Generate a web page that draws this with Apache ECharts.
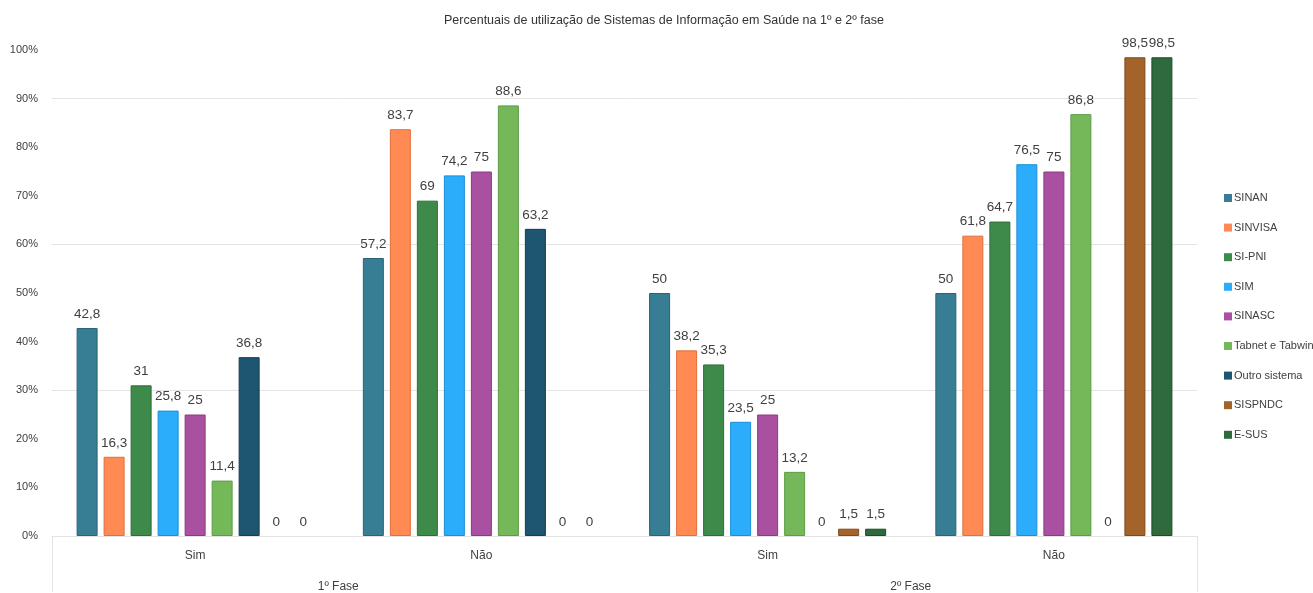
<!DOCTYPE html>
<html>
<head>
<meta charset="utf-8">
<title>Percentuais de utilização de Sistemas de Informação em Saúde</title>
<script src="https://cdn.jsdelivr.net/npm/echarts@6/dist/echarts.min.js"></script>
<style>
  html, body { margin: 0; padding: 0; background: #fff; }
  #chart { width: 1313px; height: 593px; }
</style>
</head>
<body>
<div id="chart"></div>
<script>
// Answer categories and the phase each pair belongs to
const categories = ['Sim', 'Não', 'Sim', 'Não'];
const phases = ['1º Fase', '2º Fase'];
const yTicks = [0, 10, 20, 30, 40, 50, 60, 70, 80, 90, 100];
const gridLevels = [30, 60, 90];

// Percentages per information system (1ª fase Sim, Não, 2ª fase Sim, Não)
const sinan = [42.8, 57.2, 50, 50];
const sinvisa = [16.3, 83.7, 38.2, 61.8];
const siPni = [31, 69, 35.3, 64.7];
const sim = [25.8, 74.2, 23.5, 76.5];
const sinasc = [25, 75, 25, 75];
const tabnet = [11.4, 88.6, 13.2, 86.8];
const outro = [36.8, 63.2, 0, 0];
const sispndc = [0, 0, 1.5, 98.5];
const esus = [0, 0, 1.5, 98.5];

const systems = [
  { name: 'SINAN', data: sinan, color: '#377D94', border: '#2a6378' },
  { name: 'SINVISA', data: sinvisa, color: '#FF8A53', border: '#e0703c' },
  { name: 'SI-PNI', data: siPni, color: '#3E8A4A', border: '#2d6e37' },
  { name: 'SIM', data: sim, color: '#2CADFB', border: '#1a8fd6' },
  { name: 'SINASC', data: sinasc, color: '#A950A0', border: '#8a3c82' },
  { name: 'Tabnet e Tabwin', data: tabnet, color: '#74B85A', border: '#5c9c45' },
  { name: 'Outro sistema', data: outro, color: '#1E5570', border: '#133e54' },
  { name: 'SISPNDC', data: sispndc, color: '#A3632A', border: '#824a1a' },
  { name: 'E-SUS', data: esus, color: '#2E6A3C', border: '#1b4c27' }
];

const font = "'Liberation Sans', Arial, sans-serif";
const textColor = '#404040';

const chart = echarts.init(document.getElementById('chart'), null, { renderer: 'canvas' });

const series = systems.map((s, i) => {
  const item = {
    name: s.name,
    type: 'bar',
    xAxisIndex: 0,
    // zero-height bars keep their label but draw no outline
    data: s.data.map(v => (v === 0 ? { value: v, itemStyle: { borderWidth: 0 } } : v)),
    barWidth: 21,
    barGap: '28.6%',
    itemStyle: { color: s.color, borderColor: s.border, borderWidth: 1 },
    label: {
      show: true,
      position: 'top',
      distance: 7,
      fontFamily: font,
      fontSize: 13.5,
      color: textColor,
      formatter: p => String(p.value).replace('.', ',')
    }
  };
  if (i === 0) {
    // light horizontal guides at 30%, 60% and 90%
    item.markLine = {
      silent: true,
      symbol: 'none',
      label: { show: false },
      z: 0,
      lineStyle: { color: '#e4e4e4', width: 1, type: 'solid' },
      data: gridLevels.map(v => ({ yAxis: v }))
    };
  }
  return item;
});

chart.setOption({
  animation: false,
  backgroundColor: '#ffffff',
  title: {
    text: 'Percentuais de utilização de Sistemas de Informação em Saúde na 1º e 2º fase',
    left: 659,
    textAlign: 'center',
    top: 9,
    textStyle: { fontFamily: font, fontSize: 12.5, fontWeight: 'normal', color: '#333' }
  },
  legend: {
    orient: 'vertical',
    left: 1219,
    top: 186,
    itemWidth: 8,
    itemHeight: 8,
    itemGap: 15.6,
    icon: 'rect',
    itemStyle: { borderWidth: 0 },
    textStyle: { fontFamily: font, fontSize: 11, color: textColor, lineHeight: 14, padding: [0, 0, 0, -3] },
    data: systems.map(s => s.name)
  },
  grid: { left: 52, right: 116, top: 50, bottom: 56, containLabel: false },
  xAxis: [
    {
      type: 'category',
      data: categories,
      axisLine: { show: true, lineStyle: { color: '#e3e3e3', width: 1 } },
      axisTick: { show: false },
      axisLabel: { margin: 14, fontFamily: font, fontSize: 12, color: textColor }
    },
    {
      type: 'category',
      position: 'bottom',
      data: phases,
      axisLine: { show: false },
      axisTick: { show: true, length: 56, interval: (i) => i === 0, lineStyle: { color: '#e3e3e3' } },
      axisLabel: { margin: 45, fontFamily: font, fontSize: 12, color: textColor }
    }
  ],
  yAxis: {
    type: 'value',
    min: 0,
    max: 100,
    interval: 10,
    axisLine: { show: false },
    axisTick: { show: false },
    splitLine: { show: false },
    axisLabel: {
      margin: 14,
      fontFamily: font,
      fontSize: 11,
      color: textColor,
      formatter: v => (yTicks.includes(v) ? v + '%' : '')
    }
  },
  series: series
});
</script>
</body>
</html>
